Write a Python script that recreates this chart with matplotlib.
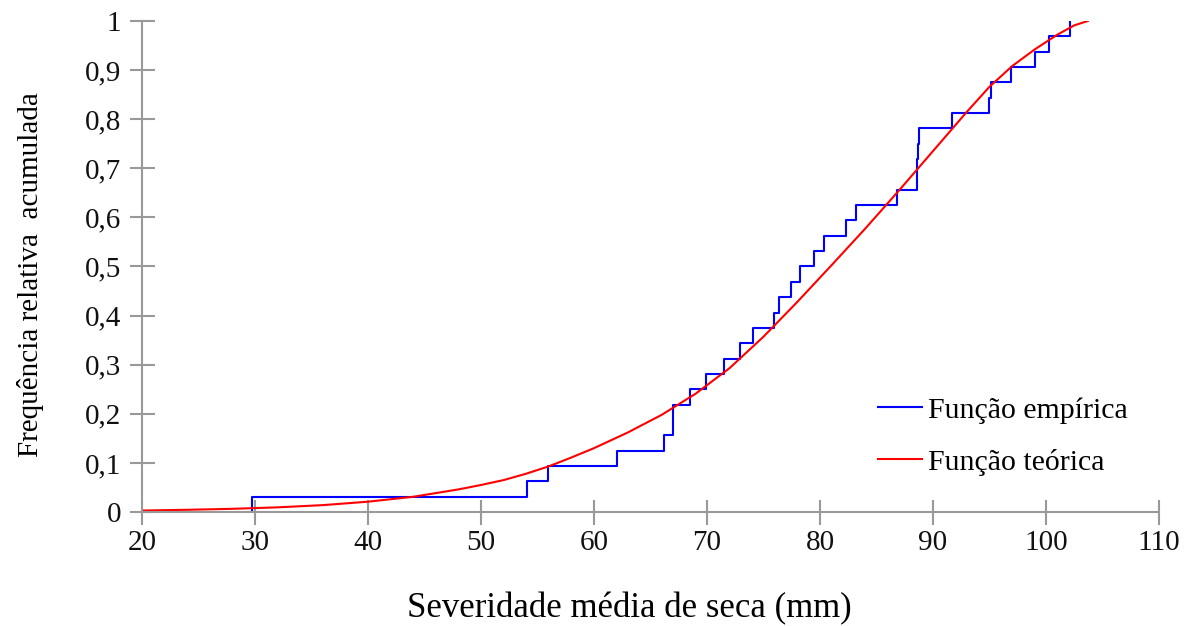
import matplotlib.pyplot as plt
from matplotlib.ticker import FuncFormatter

# empirical sample (sorted), read from the step positions
empirica_x = [29.7, 54.1, 55.9, 62.0, 66.2, 67.0, 67.0, 68.5, 69.9, 71.5,
              72.9, 74.1, 75.9, 76.4, 77.4, 78.2, 79.5, 80.4, 82.3, 83.2,
              86.8, 88.6, 88.6, 88.7, 88.8, 91.7, 95.0, 95.1, 96.9, 99.0,
              100.3, 102.1]

# theoretical curve
teorica_x = [20, 24, 28, 32, 36, 40, 44, 48, 50, 52, 54, 56, 58, 60, 63,
             66, 69, 72, 75, 78, 81, 84, 87, 90, 93, 95, 97, 99, 101,
             102.5, 103.7]
teorica_y = [0.003, 0.0045, 0.0065, 0.0095, 0.014, 0.021, 0.031, 0.046,
             0.055, 0.065, 0.078, 0.093, 0.111, 0.130, 0.162, 0.198, 0.241,
             0.293, 0.357, 0.428, 0.502, 0.577, 0.655, 0.735, 0.815, 0.866,
             0.908, 0.942, 0.972, 0.991, 1.0]

plt.rcParams['font.family'] = ['Liberation Serif', 'DejaVu Serif']

n = len(empirica_x)
step_x = [empirica_x[0]] + empirica_x
step_y = [0] + [(i + 1) / n for i in range(n)]

fig = plt.figure(figsize=(11.92, 6.26), dpi=100)
ax = fig.add_axes([0.1191, 0.1821, 0.8532, 0.7844])

ax.step(step_x, step_y, where='post', color='#0000FF', linewidth=1.5,
        label='Função empírica')
ax.plot(teorica_x, teorica_y, color='#FF0000', linewidth=1.5,
        label='Função teórica')

ax.set_xlim(20, 110)
ax.set_ylim(0, 1)
ax.set_xticks(range(20, 111, 10))
ax.set_yticks([i / 10 for i in range(11)])
ax.yaxis.set_major_formatter(FuncFormatter(
    lambda v, p: '0' if v == 0 else ('1' if v == 1 else f'{v:.1f}'.replace('.', ','))))

for s in ['top', 'right']:
    ax.spines[s].set_visible(False)
for s in ['left', 'bottom']:
    ax.spines[s].set_color('#999999')
    ax.spines[s].set_linewidth(1.5)

ax.tick_params(direction='inout', length=18, width=1.5, color='#999999',
               labelsize=21, labelcolor='#111111')
ax.tick_params(axis='x', pad=4)
ax.tick_params(axis='y', pad=6)

ax.set_xlabel('Severidade média de seca (mm)', fontsize=25, labelpad=26)
ax.xaxis.label.set_x(0.479)
ax.set_ylabel('Frequência relativa  acumulada', fontsize=21, labelpad=29)
ax.yaxis.label.set_y(0.483)

leg = ax.legend(loc='upper left', bbox_to_anchor=(0.7237, 0.235), frameon=False,
                fontsize=21.5, handlelength=1.47, handletextpad=0.2,
                labelspacing=0.85, borderpad=0, borderaxespad=0)

fig.savefig('out.png', dpi=100)
